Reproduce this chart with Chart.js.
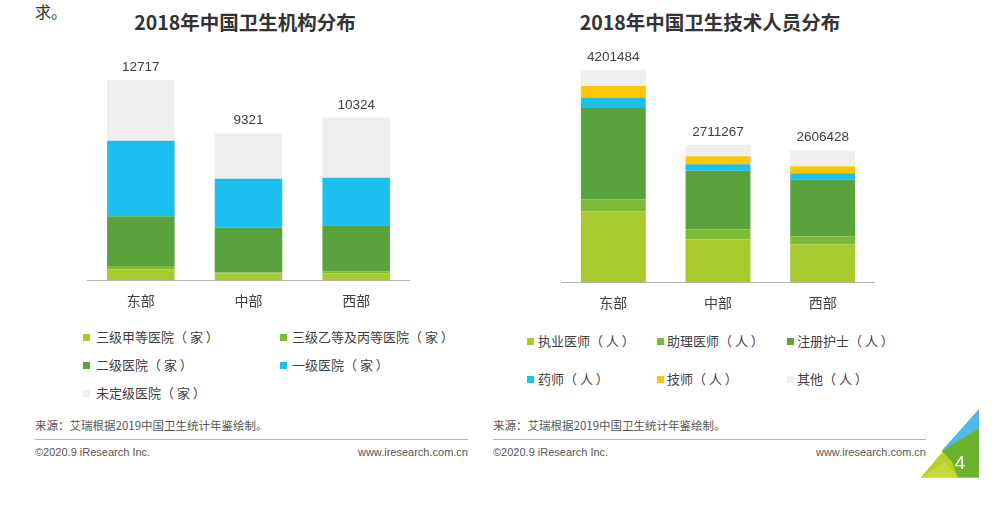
<!DOCTYPE html>
<html><head><meta charset="utf-8">
<script src="https://cdn.jsdelivr.net/npm/chart.js@4/dist/chart.umd.min.js"></script>
<style>
html,body{margin:0;padding:0;background:#fff;}
body{width:1000px;height:513px;position:relative;overflow:hidden;font-family:'Noto Sans CJK SC','Noto Sans',sans-serif;color:#404040;}
.abs{position:absolute;white-space:nowrap;}
.title{font-weight:bold;font-size:19.5px;color:#333;line-height:24px;transform:translateX(-50%);}
.leg{font-size:13px;line-height:18px;color:#404040;}
.leg i{position:absolute;width:7px;height:7px;left:0;top:6px;}
.src{font-size:11.5px;color:#555;line-height:14px;}
.foot{font-family:'Liberation Sans',Arial,sans-serif;font-size:11px;color:#555;line-height:13px;}
.hr{position:absolute;height:1px;background:#b3b3b3;}
</style></head><body>
<div class="abs" style="left:35px;top:1px;font-size:16px;color:#333;line-height:20px;">求。</div>
<div class="abs title" style="left:245px;top:10px;">2018年中国卫生机构分布</div>
<div class="abs title" style="left:710px;top:10px;">2018年中国卫生技术人员分布</div>

<div class="abs" style="left:87px;top:40px;width:323px;height:281px;"><canvas id="c1"></canvas></div>
<div class="abs" style="left:561px;top:40px;width:314px;height:283px;"><canvas id="c2"></canvas></div>

<div id="leg1"></div>
<div id="leg2"></div>

<div class="abs src" style="left:35px;top:418px;">来源：艾瑞根据2019中国卫生统计年鉴绘制。</div>
<div class="hr" style="left:35px;top:439px;width:433px;"></div>
<div class="abs foot" style="left:35px;top:446px;">©2020.9 iResearch Inc.</div>
<div class="abs foot" style="left:318px;top:446px;width:150px;text-align:right;">www.iresearch.com.cn</div>

<div class="abs src" style="left:493px;top:418px;">来源：艾瑞根据2019中国卫生统计年鉴绘制。</div>
<div class="hr" style="left:493px;top:439px;width:433px;"></div>
<div class="abs foot" style="left:493px;top:446px;">©2020.9 iResearch Inc.</div>
<div class="abs foot" style="left:776px;top:446px;width:150px;text-align:right;">www.iresearch.com.cn</div>

<svg class="abs" style="left:0;top:0;" width="1000" height="513">
  <polygon points="920.7,477.5 979,477.5 979,409" fill="#b6d12b"/>
  <polygon points="941.7,450.7 979,428 979,477.5 958,477.5 952,462" fill="#6cb22f"/>
  <polygon points="941.7,450.7 979,409 979,428" fill="#4db9e8"/>
  <polygon points="920.7,477.5 958,477.5 945,462" fill="#c4da3a"/>
  <text x="960" y="469" font-family="Liberation Sans, Arial, sans-serif" font-size="19" fill="#fff" text-anchor="middle">4</text>
</svg>

<script>
// ---- data ----
const categories = ['东部', '中部', '西部'];

// 2018年中国卫生机构分布 (家)
const instNames = ['三级甲等医院（ 家 ）', '三级乙等及丙等医院（ 家 ）', '二级医院（ 家 ）', '一级医院（ 家 ）', '未定级医院（ 家 ）'];
const instSanjiJia    = [680, 424, 424];
const instSanjiYiBing = [218, 64, 150];
const instErji        = [3155, 2861, 2918];
const instYiji        = [4800, 3091, 3008];
const instWeiding     = [3864, 2881, 3824];

// 2018年中国卫生技术人员分布 (人)
const staffNames = ['执业医师（ 人 ）', '助理医师（ 人 ）', '注册护士（ 人 ）', '药师（ 人 ）', '技师（ 人 ）', '其他（ 人 ）'];
const staffZhiye  = [1396000, 844000, 744000];
const staffZhuli  = [246000, 199000, 160000];
const staffHushi  = [1801000, 1163000, 1123000];
const staffYaoshi = [212000, 126000, 126000];
const staffJishi  = [226000, 160000, 140000];
const staffQita   = [320484, 219267, 313428];

// ---- styles ----
const instColors  = ['#a9ca2e', '#7dba35', '#5aa33c', '#1cc0ee', '#efefef'];
const staffColors = ['#a9ca2e', '#7dba35', '#5aa33c', '#1cc0ee', '#fec800', '#efefef'];

Chart.defaults.font.family = "'Noto Sans CJK SC', 'Noto Sans', sans-serif";
Chart.defaults.animation = false;

const totalsPlugin = {
  id: 'totals',
  afterDatasetsDraw(chart) {
    const ctx = chart.ctx;
    const y = chart.scales.y, x = chart.scales.x;
    ctx.save();
    ctx.font = "13.5px 'Liberation Sans', Arial, sans-serif";
    ctx.fillStyle = '#404040';
    ctx.textAlign = 'center';
    ctx.textBaseline = 'bottom';
    chart.data.labels.forEach((_, i) => {
      let sum = 0;
      chart.data.datasets.forEach(d => sum += d.data[i]);
      ctx.fillText(String(sum), x.getPixelForValue(i), y.getPixelForValue(sum) - 6);
    });
    ctx.restore();
  }
};

function makeChart(id, names, series, colors, ymax, barPct) {
  new Chart(document.getElementById(id), {
    type: 'bar',
    data: {
      labels: categories,
      datasets: series.map((s, k) => ({
        label: names[k], data: s, backgroundColor: colors[k], borderWidth: 0,
        categoryPercentage: 1, barPercentage: barPct
      }))
    },
    options: {
      responsive: true, maintainAspectRatio: false,
      layout: { padding: 0 },
      plugins: { legend: { display: false }, tooltip: { enabled: false } },
      scales: {
        x: {
          stacked: true,
          grid: { display: false, drawTicks: false },
          border: { display: true, color: '#b3b3b3', width: 1 },
          ticks: { color: '#404040', font: { size: 14 }, padding: 12 }
        },
        y: { stacked: true, display: false, min: 0, max: ymax }
      }
    },
    plugins: [totalsPlugin]
  });
}

makeChart('c1', instNames, [instSanjiJia, instSanjiYiBing, instErji, instYiji, instWeiding], instColors, 15250, 0.627);
makeChart('c2', staffNames, [staffZhiye, staffZhuli, staffHushi, staffYaoshi, staffJishi, staffQita], staffColors, 4790000, 0.62);

function buildLegend(elId, names, colors, positions) {
  const el = document.getElementById(elId);
  names.forEach((n, k) => {
    const p = positions[k];
    const d = document.createElement('div');
    d.className = 'abs leg';
    d.style.left = p[0] + 'px';
    d.style.top = (p[1] - 9) + 'px';
    d.style.paddingLeft = (p[2]) + 'px';
    d.innerHTML = '<i style="background:' + colors[k] + '"></i>' + n;
    el.appendChild(d);
  });
}
buildLegend('leg1', instNames, instColors, [[83, 337, 13], [280, 337, 12], [83, 365, 13], [280, 365, 12], [83, 393, 13]]);
buildLegend('leg2', staffNames, staffColors, [[527, 341, 11], [657, 341, 10], [787, 341, 10], [527, 379, 11], [657, 379, 10], [787, 379, 10]]);
</script>
</body></html>
